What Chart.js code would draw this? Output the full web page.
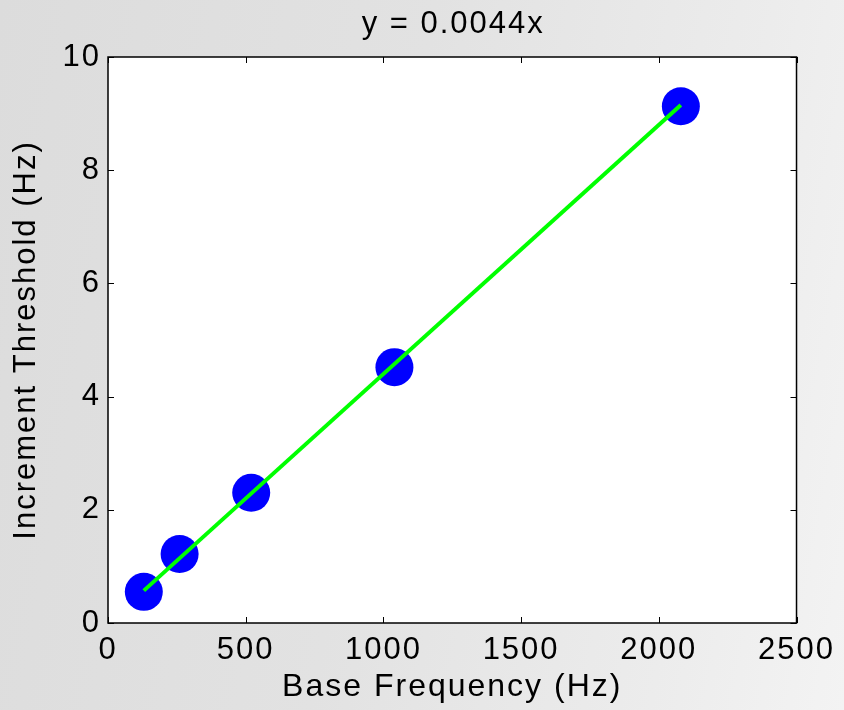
<!DOCTYPE html>
<html lang="en">
<head>
<meta charset="UTF-8">
<title>Increment Threshold</title>
<script src="https://cdn.jsdelivr.net/npm/chart.js"></script>
<style>
  html, body { margin: 0; padding: 0; }
  body {
    width: 844px; height: 710px; overflow: hidden;
    background: linear-gradient(100deg, #dcdcdc 0%, #e2e2e2 45%, #ececec 80%, #f3f3f3 100%);
  }
  .box { position: relative; width: 844px; height: 710px; }
</style>
</head>
<body>
<div class="box"><canvas id="grafico"></canvas></div>
<script>
  // measured points
  const baseFreq = [130, 260, 520, 1040, 2080];
  const threshold = [0.55, 1.22, 2.30, 4.52, 9.13];
  // fitted line y = 0.0044x, end points
  const fitX = [130, 2080];
  const fitY = [0.572, 9.152];
  const xTicks = [0, 500, 1000, 1500, 2000, 2500];
  const yTicks = [0, 2, 4, 6, 8, 10];
  const titleText = 'y = 0.0044x';

  const fonte = 'Liberation Sans, Arial, Helvetica, sans-serif';

  const spacing = {
    id: 'spacing',
    beforeLayout(chart) { chart.ctx.letterSpacing = '2px'; },
    beforeDraw(chart) { chart.ctx.letterSpacing = '2px'; }
  };

  const moldura = {
    id: 'moldura',
    beforeDatasetsDraw(chart) {
      const a = chart.chartArea, c = chart.ctx;
      c.save();
      c.fillStyle = '#ffffff';
      c.fillRect(a.left, a.top, a.right - a.left, a.bottom - a.top);
      c.restore();
    },
    afterDraw(chart) {
      const a = chart.chartArea, c = chart.ctx;
      const sx = chart.scales.x, sy = chart.scales.y;
      c.save();
      c.strokeStyle = '#000';
      c.lineWidth = 1;
      const t = 6;
      c.beginPath();
      xTicks.forEach(v => {
        const px = Math.round(sx.getPixelForValue(v)) + 0.5;
        c.moveTo(px, a.bottom); c.lineTo(px, a.bottom - t);
        c.moveTo(px, a.top); c.lineTo(px, a.top + t);
      });
      yTicks.forEach(v => {
        const py = Math.round(sy.getPixelForValue(v)) + 0.5;
        c.moveTo(a.left, py); c.lineTo(a.left + t, py);
        c.moveTo(a.right, py); c.lineTo(a.right - t, py);
      });
      c.stroke();
      c.lineWidth = 1.5;
      c.strokeRect(a.left, a.top, a.right - a.left, a.bottom - a.top);
      // title over the plot box
      c.letterSpacing = '2px';
      c.fillStyle = '#000';
      c.font = '31px ' + fonte;
      c.textAlign = 'center';
      c.textBaseline = 'alphabetic';
      c.fillText(titleText, (a.left + a.right) / 2 + 1, 33);
      c.restore();
    }
  };

  const ctx = document.getElementById('grafico');

  new Chart(ctx, {
    type: 'scatter',
    data: {
      datasets: [{
        label: 'fit',
        data: fitX.map((x, i) => ({ x: x, y: fitY[i] })),
        showLine: true,
        borderColor: '#00ff00',
        borderWidth: 4,
        pointRadius: 0,
        pointHoverRadius: 0
      }, {
        label: 'data',
        data: baseFreq.map((x, i) => ({ x: x, y: threshold[i] })),
        backgroundColor: '#0000ff',
        borderColor: '#0000ff',
        borderWidth: 0,
        pointRadius: 19,
        pointHoverRadius: 19
      }]
    },
    options: {
      responsive: true,
      maintainAspectRatio: false,
      animation: false,
      events: [],
      layout: { padding: { left: 0, right: 46, top: 57, bottom: 0 } },
      plugins: {
        legend: { display: false },
        tooltip: { enabled: false },
        title: { display: false }
      },
      scales: {
        x: {
          type: 'linear',
          min: 0, max: 2500,
          afterBuildTicks(scale) { scale.ticks = xTicks.map(v => ({ value: v })); },
          afterFit(scale) { scale.height = 87; },
          grid: { display: false, drawTicks: false },
          border: { display: false },
          ticks: {
            color: '#000',
            padding: 9,
            maxRotation: 0,
            callback: v => String(v),
            font: { family: fonte, size: 31 }
          },
          title: {
            display: true,
            text: 'Base Frequency (Hz)',
            color: '#000',
            padding: { top: 0, bottom: 4 },
            font: { family: fonte, size: 32 }
          }
        },
        y: {
          type: 'linear',
          min: 0, max: 10,
          afterBuildTicks(scale) { scale.ticks = yTicks.map(v => ({ value: v })); },
          afterFit(scale) { scale.width = 108; },
          grid: { display: false, drawTicks: false },
          border: { display: false },
          ticks: {
            color: '#000',
            padding: 7,
            callback: v => String(v),
            font: { family: fonte, size: 31 }
          },
          title: {
            display: true,
            text: 'Increment Threshold (Hz)',
            color: '#000',
            padding: { top: 8, bottom: 0 },
            font: { family: fonte, size: 31 }
          }
        }
      }
    },
    plugins: [spacing, moldura]
  });
</script>
</body>
</html>
